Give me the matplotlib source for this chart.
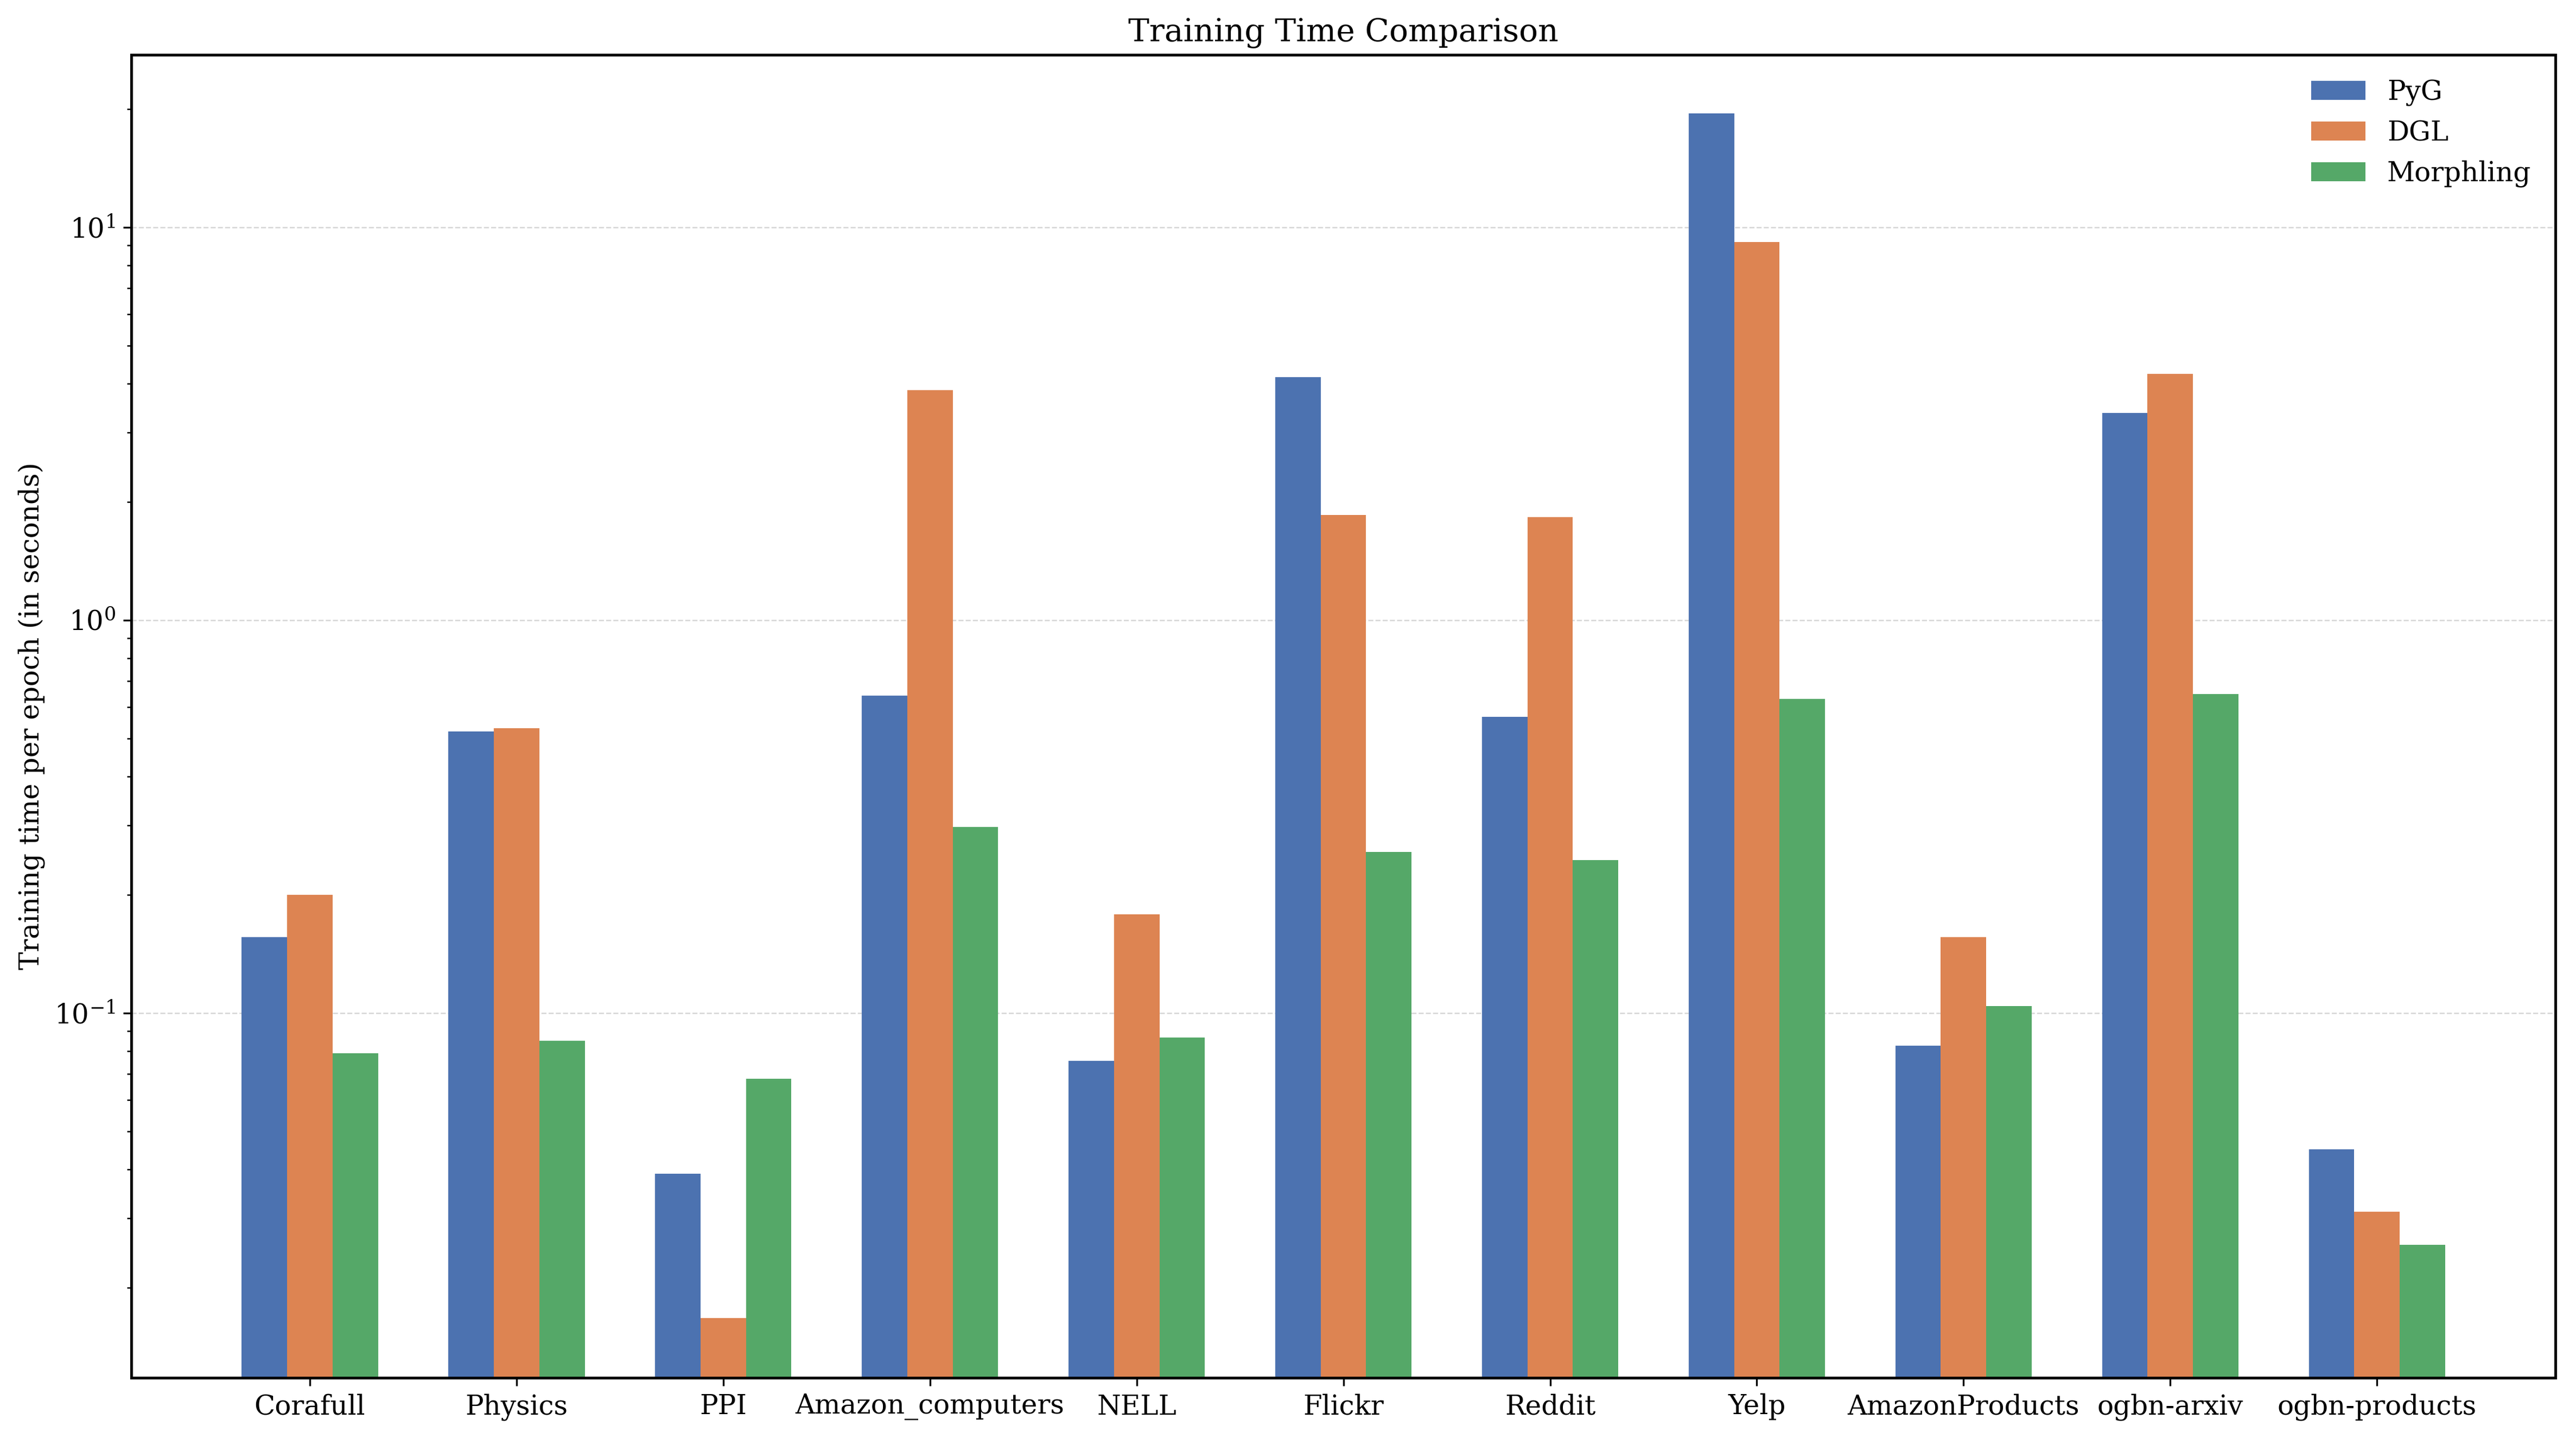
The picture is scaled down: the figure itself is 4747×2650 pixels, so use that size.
import numpy as np
import matplotlib
matplotlib.use("Agg")
import matplotlib.pyplot as plt

datasets = ["Corafull", "Physics", "PPI", "Amazon_computers", "NELL", "Flickr",
            "Reddit", "Yelp", "AmazonProducts", "ogbn-arxiv", "ogbn-products"]
pyg = [0.156, 0.52, 0.039, 0.642, 0.0756, 4.16, 0.567, 19.5, 0.0825, 3.37, 0.045]
dgl = [0.200, 0.53, 0.0167, 3.85, 0.178, 1.85, 1.83, 9.17, 0.156, 4.24, 0.0312]
morphling = [0.079, 0.085, 0.068, 0.297, 0.0866, 0.257, 0.245, 0.63, 0.104, 0.648, 0.0257]

plt.rcParams['font.family'] = ['DejaVu Serif']
plt.rcParams['axes.linewidth'] = 1.2

fig = plt.figure(figsize=(4747 / 300, 2650 / 300), dpi=300)
ax = fig.add_axes([0.051, 0.042, 0.941, 0.920])

x = np.arange(len(datasets))
width = 0.22

# three bars per dataset
ax.bar(x - width, pyg, width, color='#4C72B0', label='PyG', zorder=2)
ax.bar(x, dgl, width, color='#DD8452', label='DGL', zorder=2)
ax.bar(x + width, morphling, width, color='#55A868', label='Morphling', zorder=2)

ax.set_yscale('log')
ax.set_ylim(0.0118, 27.5)
ax.set_xlim(-0.863, 10.863)
ax.set_xticks(x)
ax.set_xticklabels(datasets, fontsize=12)
ax.tick_params(axis='y', labelsize=12)
ax.set_ylabel("Training time per epoch (in seconds)", fontsize=12)
ax.set_title("Training Time Comparison", fontsize=14)
ax.grid(axis='y', which='major', linestyle='--', color='#cccccc', linewidth=0.6, alpha=0.8, zorder=0)
ax.legend(frameon=False, fontsize=12, loc='upper right')

fig.savefig("out.png", dpi=300)
